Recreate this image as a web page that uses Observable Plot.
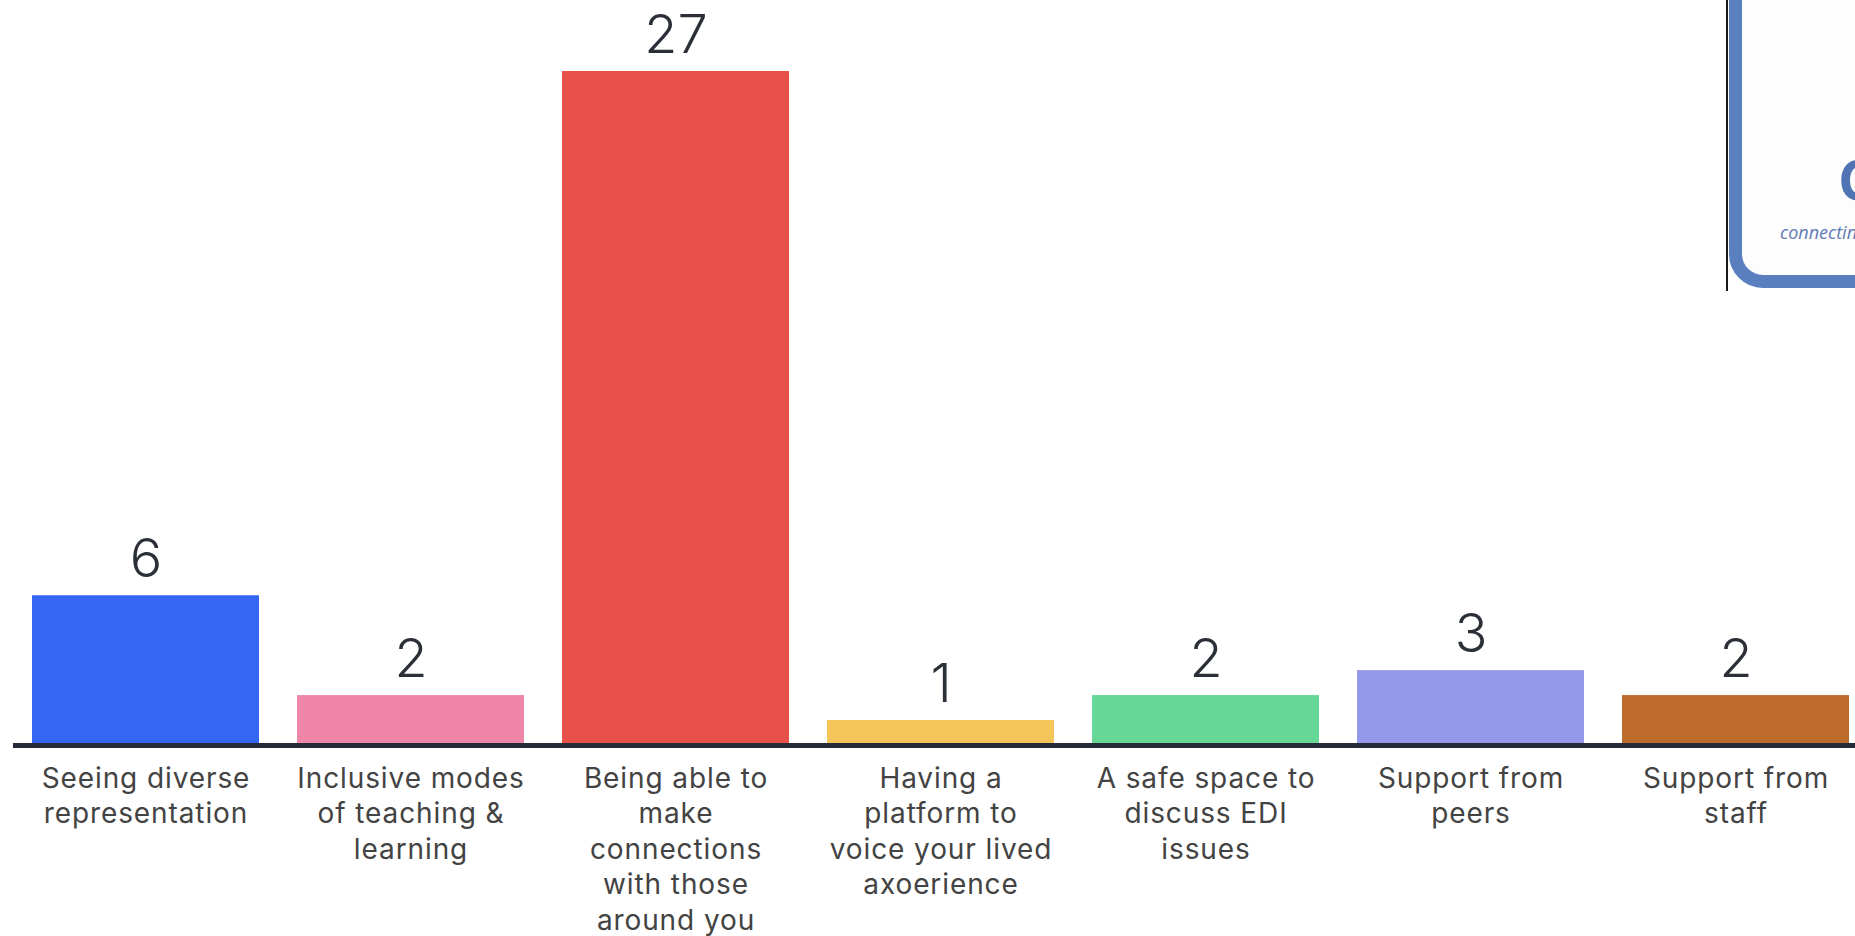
<!DOCTYPE html>
<html>
<head>
<meta charset="utf-8">
<script src="https://cdn.jsdelivr.net/npm/d3@7"></script>
<script src="https://cdn.jsdelivr.net/npm/@observablehq/plot@0.6"></script>
<style>
  html, body { margin: 0; padding: 0; background: #ffffff; }
  body { position: relative; width: 1855px; height: 936px; overflow: hidden; }
  #chart { position: absolute; left: 0; top: 0; }
  #logo-line { position: absolute; left: 1726px; top: 0; width: 2px; height: 291px; background: #1a1a1a; }
  #logo-box { position: absolute; left: 1729px; top: -80px; width: 300px; height: 342px;
    border: 13px solid #5a7fbe; border-radius: 34px; background: #fdfdfe; }
  #logo-c { position: absolute; left: 1838px; top: 138px; font-family: "Open Sans", sans-serif; font-weight: 700;
    font-size: 56px; line-height: 80px; color: #4f73b3; }
  #logo-t { position: absolute; left: 1780px; top: 218px; font-family: "Open Sans", sans-serif; font-style: italic;
    font-size: 18px; line-height: 28px; color: #5d7bb5; white-space: nowrap; }
  .cat-labels text { letter-spacing: 0.9px; }
</style>
</head>
<body>
<div id="chart"></div>
<div id="logo-line"></div>
<div id="logo-box"></div>
<div id="logo-c">C</div>
<div id="logo-t">connecting</div>
<script>
const categories = [
  "Seeing diverse representation",
  "Inclusive modes of teaching & learning",
  "Being able to make connections with those around you",
  "Having a platform to voice your lived axoerience",
  "A safe space to discuss EDI issues",
  "Support from peers",
  "Support from staff"
];
const values = [6, 2, 27, 1, 2, 3, 2];
const tickLabels = [
  "Seeing diverse\nrepresentation",
  "Inclusive modes\nof teaching &\nlearning",
  "Being able to\nmake\nconnections\nwith those\naround you",
  "Having a\nplatform to\nvoice your lived\naxoerience",
  "A safe space to\ndiscuss EDI\nissues",
  "Support from\npeers",
  "Support from\nstaff"
];
const colors = ["#3466f1", "#ef86a9", "#e8514a", "#f4c65a", "#66d797", "#9599e9", "#bd6b2c"];

const data = categories.map((c, i) => ({category: c, value: values[i], label: tickLabels[i], color: colors[i]}));

const chart = Plot.plot({
  width: 1855,
  height: 936,
  marginLeft: 13,
  marginRight: 0,
  marginTop: 71,
  marginBottom: 191,
  style: {fontFamily: "Inter, 'Noto Sans', sans-serif", background: "#ffffff"},
  x: {domain: categories, range: [32, 1849], paddingInner: 0.1434, paddingOuter: 0, axis: null},
  y: {domain: [0, 27], axis: null},
  color: {type: "identity"},
  marks: [
    Plot.barY(data, {x: "category", y: "value", fill: "color"}),
    Plot.ruleY([0], {stroke: "#262b37", strokeWidth: 5}),
    Plot.text(data, {x: "category", y: "value", text: d => String(d.value), lineAnchor: "bottom", dy: -19,
      fontSize: 54, fontWeight: 300, fill: "#2b2f38"}),
    Plot.text(data, {x: "category", y: 0, text: "label", lineAnchor: "top", dy: 17,
      fontSize: 28, lineHeight: 1.27, fill: "#434343", className: "cat-labels"})
  ]
});
document.getElementById("chart").appendChild(chart);
</script>
</body>
</html>
